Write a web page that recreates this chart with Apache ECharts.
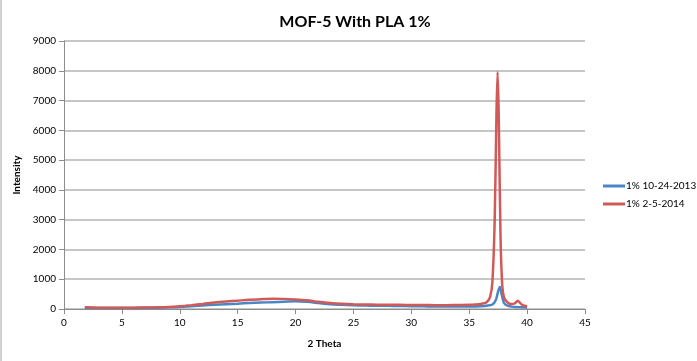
<!DOCTYPE html>
<html><head><meta charset="utf-8">
<script src="https://cdn.jsdelivr.net/npm/echarts@6/dist/echarts.min.js"></script>
<style>html,body{margin:0;padding:0;background:#fff}#c{width:697px;height:361px;box-sizing:border-box;border-left:2px solid #d0d0d0}</style>
</head><body><div id="c"></div>
<script>
const title = "MOF-5 With PLA 1%";
const xName = "2 Theta";
const yName = "Intensity";
const nameBlue = "1% 10-24-2013";
const nameRed = "1% 2-5-2014";

const blueX = [1.8,3,4,5,6,7,8,9,10,11,12,13,14,15,16,17,18,19,20,21,22,23,24,25,26,27,28,29,30,31,32,33,34,35,36,36.5,37,37.3,37.5,37.65,37.8,38,38.3,38.7,39,39.5,40];
const blueY = [40,35,30,30,35,40,45,55,70,95,120,140,160,180,200,215,230,245,260,240,200,160,140,125,115,110,105,100,95,90,85,80,80,80,95,110,150,300,600,740,500,200,110,80,70,60,50];

const redX = [1.8,3,4,5,6,7,8,9,10,11,12,13,14,15,16,17,18,19,20,21,22,23,24,25,26,27,28,29,30,31,32,33,34,35,35.5,36,36.5,36.8,37.0,37.2,37.35,37.45,37.55,37.7,37.85,38.0,38.3,38.6,38.9,39.1,39.2,39.35,39.6,40];
const redY = [55,45,40,42,45,50,58,70,95,130,170,215,250,280,310,330,345,340,320,290,240,200,175,160,150,145,140,140,135,135,130,130,135,140,150,170,230,400,900,3000,6500,7960,6500,2500,800,400,220,170,180,250,280,220,130,90];

const zip = (a,b)=>a.map((v,i)=>[v,b[i]]);
const chart = echarts.init(document.getElementById('c'));
chart.setOption({
  animation:false,
  title:{text:title,left:348,top:9,textAlign:'center',textStyle:{fontFamily:'Lato',fontWeight:'bold',fontSize:16,color:'#000'}},
  grid:{left:62,right:112,top:41,bottom:52},
  legend:{orient:'vertical',left:601,top:181,width:96,itemWidth:22,itemHeight:3,itemGap:8,icon:'rect',padding:0,
    textStyle:{fontFamily:'Lato',fontSize:10,color:'#000',padding:[0,0,0,-4]},data:[nameBlue,nameRed]},
  xAxis:{type:'value',min:0,max:45,interval:5,name:xName,nameLocation:'middle',nameGap:30,
    nameTextStyle:{fontFamily:'Lato',fontWeight:'bold',fontSize:10,color:'#000'},
    axisLine:{lineStyle:{color:'#8c8c8c',width:1}},axisTick:{show:true,length:5,lineStyle:{color:'#8c8c8c'}},
    axisLabel:{fontFamily:'Lato',fontSize:10,color:'#000',margin:9},splitLine:{show:false}},
  yAxis:{type:'value',min:0,max:9000,interval:1000,name:yName,nameLocation:'middle',nameGap:40,
    nameTextStyle:{fontFamily:'Lato',fontWeight:'bold',fontSize:10,color:'#000'},
    axisLine:{show:true,lineStyle:{color:'#8c8c8c',width:1}},axisTick:{show:true,length:5,lineStyle:{color:'#8c8c8c'}},
    axisLabel:{fontFamily:'Lato',fontSize:10,color:'#000',margin:8,formatter:v=>String(v)},
    splitLine:{lineStyle:{color:'#b3b3b3',width:1.5}}},
  series:[
    {name:nameBlue,type:'line',data:zip(blueX,blueY),showSymbol:false,smooth:0.3,
     lineStyle:{color:'#4A86C5',width:2.5},itemStyle:{color:'#4A86C5'}},
    {name:nameRed,type:'line',data:zip(redX,redY),showSymbol:false,smooth:0.3,
     lineStyle:{color:'#D05A58',width:2.5},itemStyle:{color:'#D05A58'}}
  ]
});
</script></body></html>
